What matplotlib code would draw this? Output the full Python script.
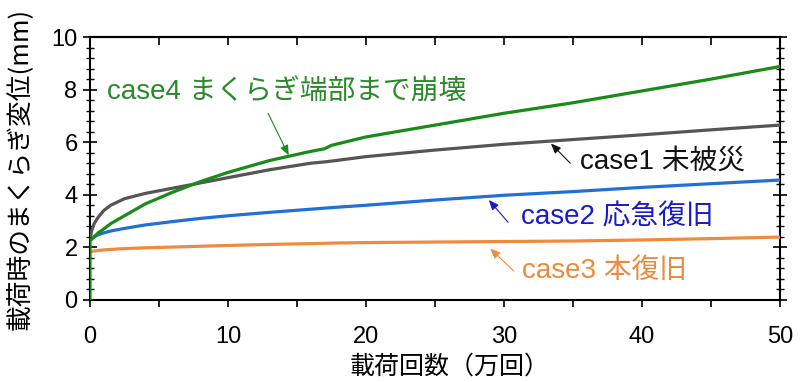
import matplotlib
matplotlib.use("Agg")
import matplotlib.pyplot as plt
from matplotlib.ticker import MultipleLocator

plt.rcParams['font.family'] = ['Liberation Sans', 'Noto Sans CJK JP', 'DejaVu Sans']

# data (万回, mm)
cycles = [0, 0, 0.1, 0.3, 0.6, 1, 1.5, 2.5, 4, 6, 8, 10, 13, 16, 17, 17.5, 20, 25, 30, 35, 40, 45, 50]
case1 = [2.25, 2.25, 2.6, 2.9, 3.15, 3.4, 3.6, 3.85, 4.05, 4.25, 4.45, 4.65, 4.95, 5.2, 5.25, 5.28,
         5.45, 5.7, 5.92, 6.1, 6.28, 6.47, 6.65]
case4 = [0, 2.25, 2.3, 2.4, 2.55, 2.7, 2.9, 3.2, 3.65, 4.1, 4.5, 4.85, 5.3, 5.65, 5.75, 5.88,
         6.2, 6.65, 7.1, 7.5, 7.95, 8.4, 8.88]
case2 = [2.25, 2.25, 2.32, 2.4, 2.48, 2.55, 2.62, 2.72, 2.85, 2.98, 3.1, 3.2, 3.33, 3.45, 3.49, 3.51,
         3.6, 3.8, 3.98, 4.12, 4.28, 4.42, 4.56]
case3 = [1.83, 1.83, 1.84, 1.86, 1.88, 1.9, 1.92, 1.95, 1.98, 2.01, 2.04, 2.07, 2.11, 2.14, 2.15, 2.16,
         2.18, 2.2, 2.22, 2.24, 2.28, 2.33, 2.39]

labels = ['case1 未被災', 'case2 応急復旧', 'case3 本復旧', 'case4 まくらぎ端部まで崩壊']
xlabel = '載荷回数（万回）'
ylabel = '載荷時のまくらぎ変位(mm)'

fig = plt.figure(figsize=(8.0, 3.82), dpi=100)
ax = fig.add_axes([0.1125, 0.215, 0.8625, 0.688])

c_grey = '#555555'
c_green = '#1a8a1a'
c_blue = '#2070d8'
c_orange = '#f08a3c'

ax.plot(cycles, case3, color=c_orange, lw=2.3, zorder=3)
ax.plot(cycles, case2, color=c_blue, lw=2.3, zorder=3)
ax.plot(cycles, case1, color=c_grey, lw=2.3, zorder=3)
ax.plot(cycles, case4, color=c_green, lw=2.3, zorder=4)

ax.set_xlim(0, 50)
ax.set_ylim(0, 10)

ax.xaxis.set_major_locator(MultipleLocator(10))
ax.xaxis.set_minor_locator(MultipleLocator(5))
ax.yaxis.set_major_locator(MultipleLocator(2))
ax.yaxis.set_minor_locator(MultipleLocator(0.4))

ax.tick_params(axis='x', which='both', direction='out', top=False, length=5, width=1.2,
               labelsize=17, pad=14)
ax.tick_params(axis='y', which='major', direction='inout', length=10, width=1.2,
               right=True, labelsize=17, pad=4)
ax.tick_params(axis='y', which='minor', direction='inout', length=6, width=1.0, right=True)

sec = ax.secondary_xaxis('top')
sec.xaxis.set_major_locator(MultipleLocator(5))
sec.tick_params(direction='in', length=6, width=1.2, labelsize=0)
sec.set_xticklabels([])
sec.spines['top'].set_linewidth(1.5)

for s in ax.spines.values():
    s.set_linewidth(1.5)

fig.text(450 / 800, 1 - 367 / 382, xlabel, fontsize=18, family=['Noto Sans CJK JP'],
         ha='center', va='center')
fig.text(20 / 800, 1 - 169 / 382, ylabel, fontsize=18.5, family=['Noto Sans CJK JP'],
         ha='center', va='center', rotation=90)

txt_kw = dict(fontsize=20, family=['Liberation Sans', 'Noto Sans CJK JP'], zorder=6)
ax.text(1.2, 7.9, labels[3], color='#2a8a2a', ha='left', va='center', **txt_kw)
ax.text(35.5, 5.25, labels[0], color='#111111', ha='left', va='center', **txt_kw)
ax.text(31.2, 3.15, labels[1], color='#1a1acc', ha='left', va='center', **txt_kw)
ax.text(31.3, 1.1, labels[2], color='#ec8a3c', ha='left', va='center', **txt_kw)

def arrow(xy, xytext, color):
    ax.annotate('', xy=xy, xytext=xytext,
                arrowprops=dict(arrowstyle='-|>,head_length=0.6,head_width=0.25',
                                color=color, lw=0.8, shrinkA=0, shrinkB=0), zorder=7)

arrow((14.4, 5.5), (12.9, 7.1), c_green)
arrow((33.4, 5.95), (34.8, 5.2), '#111111')
arrow((28.9, 3.8), (30.3, 2.95), '#1a1acc')
arrow((29.0, 1.95), (30.7, 1.1), c_orange)

fig.savefig('out.png', dpi=100)
